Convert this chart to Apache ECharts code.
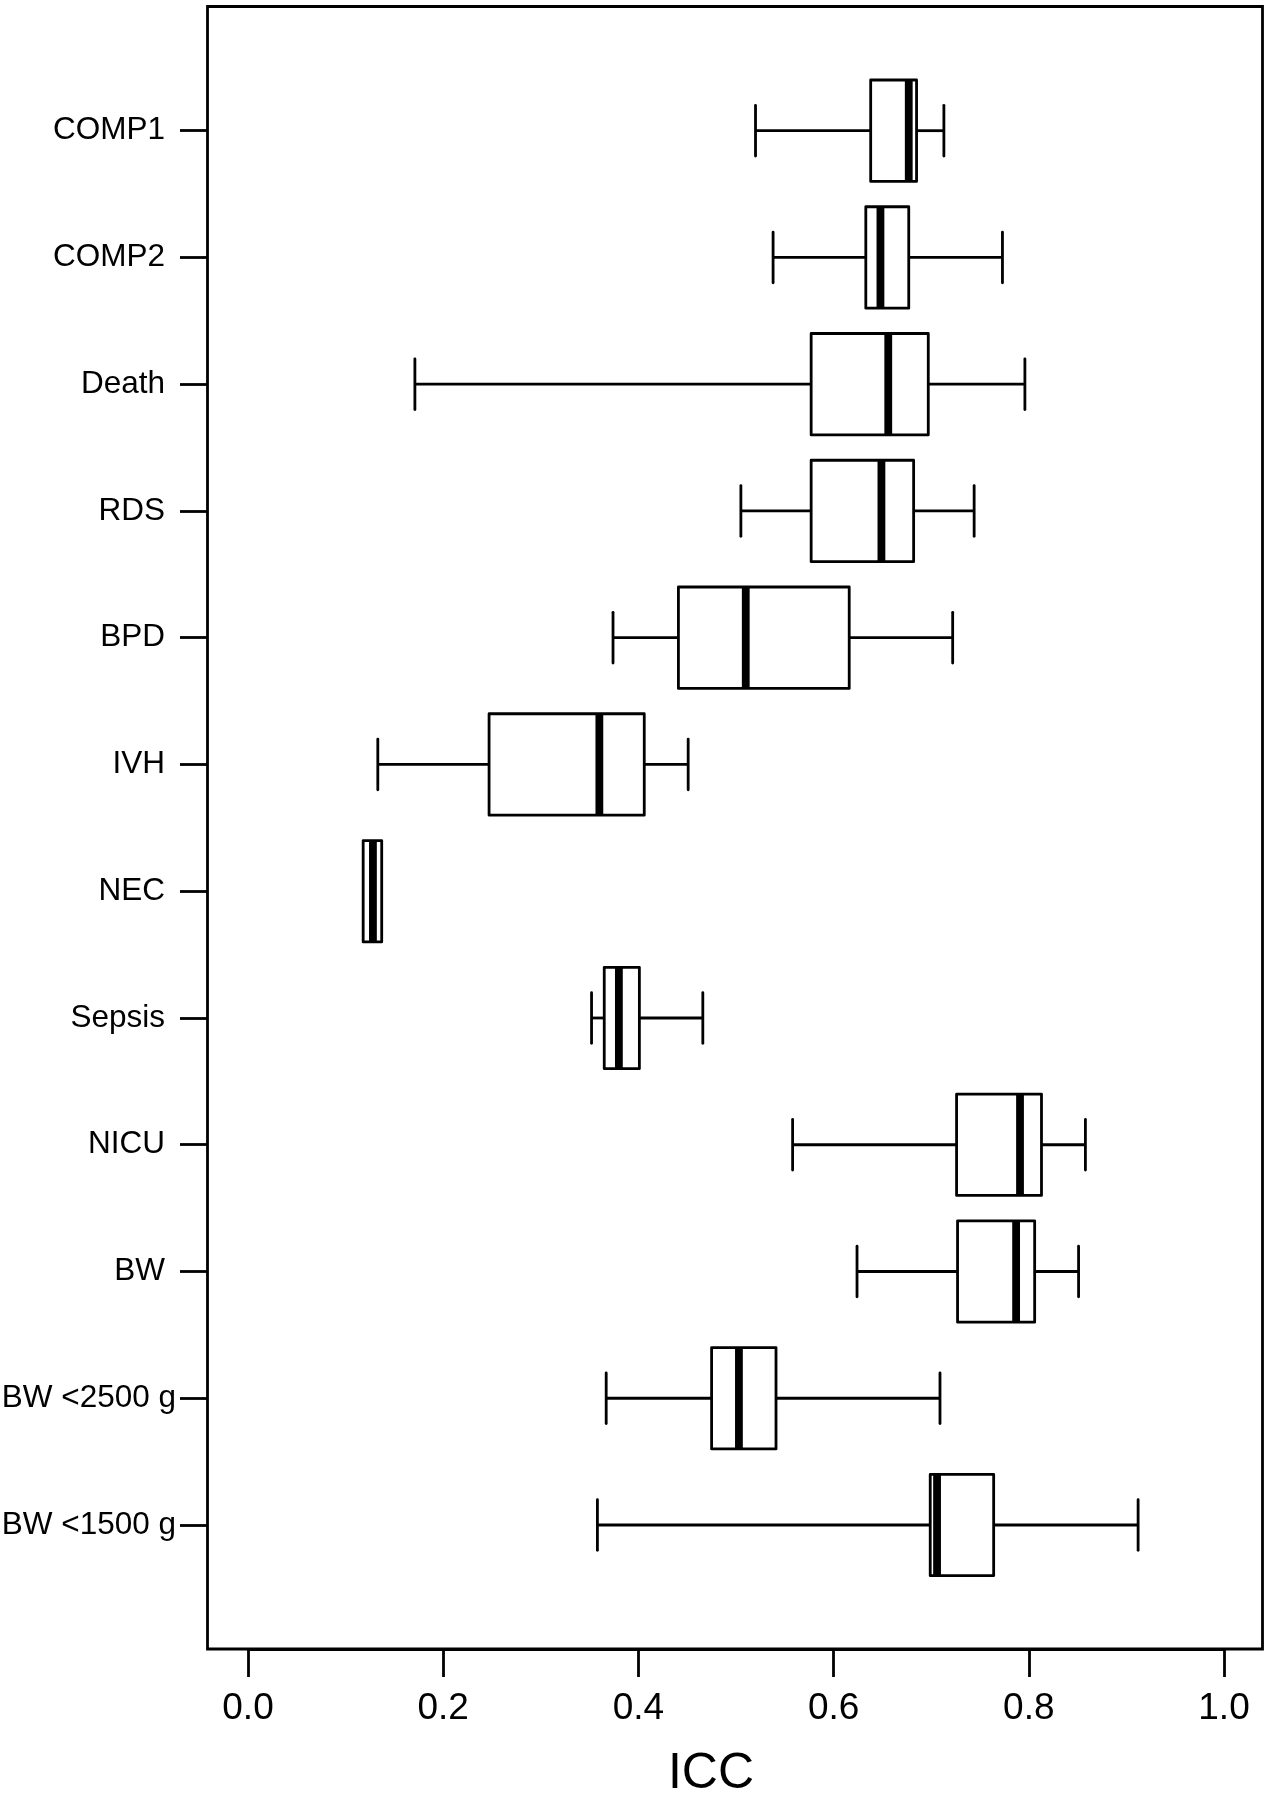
<!DOCTYPE html>
<html>
<head>
<meta charset="utf-8">
<script src="https://cdn.jsdelivr.net/npm/echarts@6/dist/echarts.min.js"></script>
<style>
  html, body { margin: 0; padding: 0; background: #fff; }
  #chart { width: 1271px; height: 1800px; }
</style>
</head>
<body>
<div id="chart"></div>
<script>
// Categories (top to bottom)
const categories = ['COMP1', 'COMP2', 'Death', 'RDS', 'BPD', 'IVH', 'NEC', 'Sepsis', 'NICU', 'BW', 'BW <2500 g', 'BW <1500 g'];
// Box statistics (ICC)
const whiskerLow  = [0.520, 0.538, 0.171, 0.505, 0.374, 0.133, 0.118, 0.352, 0.558, 0.624, 0.367, 0.358];
const lowerQuart  = [0.638, 0.633, 0.577, 0.577, 0.441, 0.247, 0.118, 0.365, 0.726, 0.727, 0.475, 0.699];
const medianVal   = [0.677, 0.648, 0.656, 0.649, 0.510, 0.360, 0.128, 0.380, 0.791, 0.787, 0.503, 0.706];
const upperQuart  = [0.685, 0.677, 0.697, 0.682, 0.616, 0.406, 0.137, 0.401, 0.813, 0.806, 0.541, 0.764];
const whiskerHigh = [0.713, 0.773, 0.796, 0.744, 0.722, 0.451, 0.137, 0.466, 0.858, 0.851, 0.709, 0.912];
// Axis ticks
const xTicks = { min: 0, max: 1, interval: 0.2 };

const seriesData = categories.map((c, i) => [i, whiskerLow[i], lowerQuart[i], medianVal[i], upperQuart[i], whiskerHigh[i]]);

const FONT = "'Liberation Sans', Arial, sans-serif";
const LW = 2.8;

const chart = echarts.init(document.getElementById('chart'), null, { renderer: 'canvas' });

function renderItem(params, api) {
  const idx = api.value(0);
  const band = api.size([0, 1])[1];
  const half = band * 0.4;
  const capHalf = band * 0.2;
  const pLo = api.coord([api.value(1), idx]);
  const pQ1 = api.coord([api.value(2), idx]);
  const pMed = api.coord([api.value(3), idx]);
  const pQ3 = api.coord([api.value(4), idx]);
  const pHi = api.coord([api.value(5), idx]);
  const y = pLo[1];
  const line = { stroke: '#000', lineWidth: LW, lineCap: 'butt' };
  const children = [];
  if (pQ1[0] - pLo[0] > 0.5) {
    children.push({ type: 'line', shape: { x1: pLo[0], y1: y, x2: pQ1[0], y2: y }, style: line });
    children.push({ type: 'line', shape: { x1: pLo[0], y1: y - capHalf, x2: pLo[0], y2: y + capHalf }, style: Object.assign({}, line, { lineCap: 'round' }) });
  }
  if (pHi[0] - pQ3[0] > 0.5) {
    children.push({ type: 'line', shape: { x1: pQ3[0], y1: y, x2: pHi[0], y2: y }, style: line });
    children.push({ type: 'line', shape: { x1: pHi[0], y1: y - capHalf, x2: pHi[0], y2: y + capHalf }, style: Object.assign({}, line, { lineCap: 'round' }) });
  }
  children.push({
    type: 'rect',
    shape: { x: pQ1[0], y: y - half, width: pQ3[0] - pQ1[0], height: 2 * half },
    style: { fill: '#fff', stroke: '#000', lineWidth: LW, lineJoin: 'round' }
  });
  children.push({
    type: 'line',
    shape: { x1: pMed[0], y1: y - half, x2: pMed[0], y2: y + half },
    style: { stroke: '#000', lineWidth: 7.8, lineCap: 'butt' }
  });
  return { type: 'group', children: children };
}

const labelBase = { fontFamily: FONT, fontSize: 31.5, color: '#000' };

const option = {
  backgroundColor: '#fff',
  animation: false,
  grid: [
    { left: 248, right: 47, top: 67.3, bottom: 211.6, containLabel: false, outerBoundsMode: 'none' },
    { left: 207.5, right: 8.5, top: 6.5, bottom: 151, containLabel: false, outerBoundsMode: 'none', show: true, borderColor: '#000', borderWidth: LW, backgroundColor: 'transparent' }
  ],
  xAxis: [
    {
      gridIndex: 0,
      type: 'value',
      min: xTicks.min,
      max: xTicks.max,
      interval: xTicks.interval,
      position: 'bottom',
      offset: 60.6,
      name: 'ICC',
      nameLocation: 'middle',
      nameGap: 100,
      nameTextStyle: { fontFamily: FONT, fontSize: 50, color: '#000', padding: [0, 50, 0, 0] },
      axisLine: { show: true, onZero: false, lineStyle: { color: '#000', width: LW } },
      axisTick: { show: true, inside: false, length: 28, lineStyle: { color: '#000', width: LW } },
      axisLabel: { fontFamily: FONT, fontSize: 37, color: '#000', margin: 41, formatter: v => v.toFixed(1) },
      splitLine: { show: false }
    },
    { gridIndex: 1, type: 'value', show: false, min: 0, max: 1 }
  ],
  yAxis: [
    {
      gridIndex: 0,
      type: 'category',
      data: categories,
      inverse: true,
      boundaryGap: true,
      position: 'left',
      offset: 40.5,
      axisLine: { show: false, onZero: false, lineStyle: { color: '#000', width: LW } },
      axisTick: { show: true, alignWithLabel: true, inside: false, length: 27.5, lineStyle: { color: '#000', width: LW } },
      axisLabel: Object.assign({}, labelBase, {
        margin: 31.5,
        interval: 0,
        formatter: v => (v.length > 8 ? '{w|' + v + '}' : '{n|' + v + '}'),
        rich: {
          n: Object.assign({}, labelBase, { padding: [0, 11, 0, 0] }),
          w: Object.assign({}, labelBase)
        }
      }),
      splitLine: { show: false }
    },
    { gridIndex: 1, type: 'value', show: false, min: 0, max: 1 }
  ],
  series: [
    {
      type: 'custom',
      xAxisIndex: 0,
      yAxisIndex: 0,
      renderItem: renderItem,
      encode: { x: [1, 2, 3, 4, 5], y: 0 },
      data: seriesData,
      clip: false
    }
  ]
};

chart.setOption(option);
</script>
</body>
</html>
